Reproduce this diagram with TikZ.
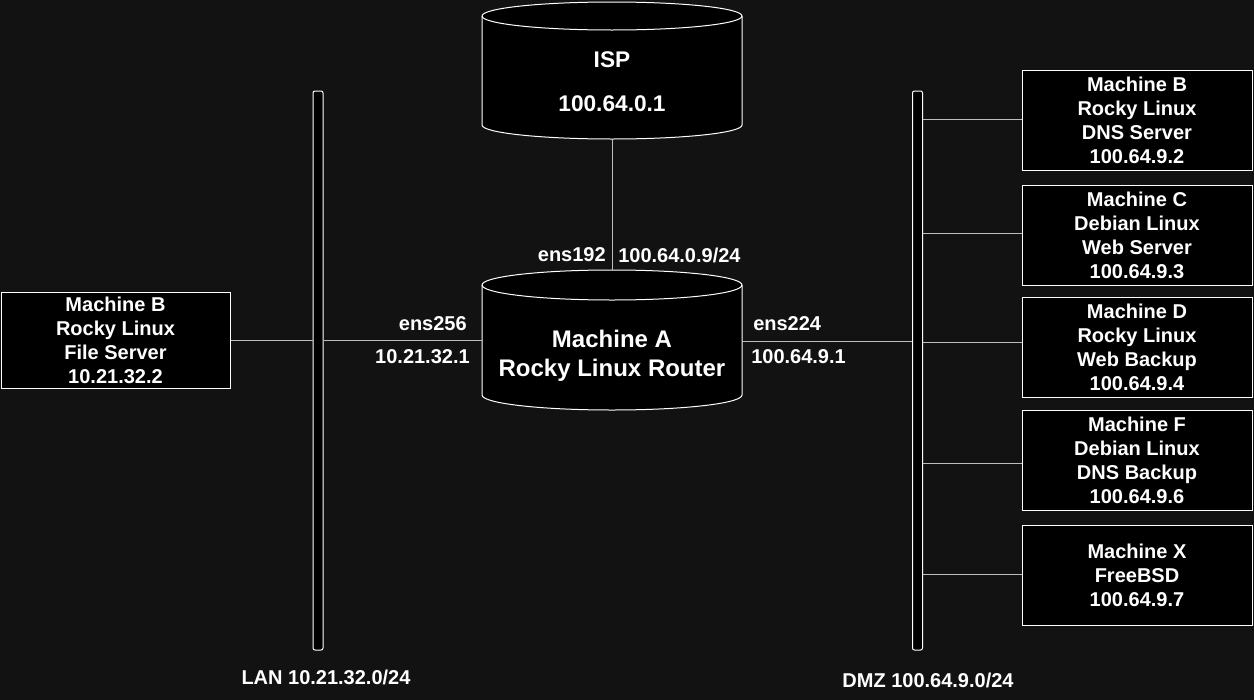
\documentclass[tikz,border=0pt]{standalone}
\usepackage{fontspec}
\setmainfont{Liberation Sans}
\definecolor{bgc}{RGB}{18,18,18}
\definecolor{wirec}{RGB}{190,190,190}
\begin{document}
\begin{tikzpicture}[x=0.75pt,y=-0.75pt,
  txt/.style={text=white,font=\bfseries\fontsize{15pt}{18pt}\selectfont,inner sep=0pt,align=center},
  isptxt/.style={text=white,font=\bfseries\fontsize{17pt}{20.4pt}\selectfont,inner sep=0pt,align=center},
  bigtxt/.style={text=white,font=\bfseries\fontsize{18pt}{21.75pt}\selectfont,inner sep=0pt,align=center},
  hostbox/.style={draw=white,fill=black,line width=0.75pt,minimum width=172.5pt,minimum height=75pt,inner sep=0pt,text=white,font=\bfseries\fontsize{15pt}{18pt}\selectfont,align=center},
  bus/.style={draw=white,fill=black,line width=0.75pt,rounded corners=1.5pt,minimum width=7.5pt,minimum height=419.25pt,inner sep=0pt},
  wire/.style={draw=wirec,line width=0.75pt},
  cyl/.style={draw=white,fill=black,line width=0.75pt}]
\useasboundingbox (0,0) rectangle (1254,700);
\fill[bgc] (0,0) rectangle (1254,700);

% ISP cylinder
\path[cyl] (482,16) -- (482,125) arc[start angle=180,end angle=0,x radius=130,y radius=14]
  -- (742,16) arc[start angle=0,end angle=-180,x radius=130,y radius=14] -- cycle;
\draw[white,line width=0.75pt] (482,16) arc[start angle=180,end angle=0,x radius=130,y radius=14];
\node[isptxt] (isp) at (612,82) {ISP\\[12.6pt]100.64.0.1};
\coordinate (ispbot) at (612,139);

% Machine A cylinder
\path[cyl] (482,285) -- (482,395) arc[start angle=180,end angle=0,x radius=130,y radius=15]
  -- (742,285) arc[start angle=0,end angle=-180,x radius=130,y radius=15] -- cycle;
\draw[white,line width=0.75pt] (482,285) arc[start angle=180,end angle=0,x radius=130,y radius=15];
\node[bigtxt] (ma) at (612,355.5) {Machine A\\Rocky Linux Router};
\coordinate (atop) at (612,270);
\coordinate (awest) at (482,340);
\coordinate (aeast) at (742,341);

% buses
\node[bus] (lan) at (318,370.5) {};
\node[bus] (dmz) at (917.5,370.5) {};

% hosts
\node[hostbox,minimum width=171.75pt,minimum height=72pt] (fs) at (115.5,340) {Machine B\\Rocky Linux\\File Server\\10.21.32.2};
\node[hostbox] (mb) at (1137,120) {Machine B\\Rocky Linux\\DNS Server\\100.64.9.2};
\node[hostbox] (mc) at (1137,235) {Machine C\\Debian Linux\\Web Server\\100.64.9.3};
\node[hostbox] (md) at (1137,347) {Machine D\\Rocky Linux\\Web Backup\\100.64.9.4};
\node[hostbox] (mf) at (1137,460) {Machine F\\Debian Linux\\DNS Backup\\100.64.9.6};
\node[hostbox] (mx) at (1137,575) {Machine X\\FreeBSD\\100.64.9.7};

% wires
\draw[wire] (ispbot) -- (atop);
\draw[wire] (fs.east) -- (lan.west |- fs.east);
\draw[wire] (lan.east |- awest) -- (awest);
\draw[wire] (aeast) -- (dmz.west |- aeast);
\draw[wire] (dmz.east |- 0,119) -- (mb.west |- 0,119);
\draw[wire] (dmz.east |- 0,233) -- (mc.west |- 0,233);
\draw[wire] (dmz.east |- 0,342) -- (md.west |- 0,342);
\draw[wire] (dmz.east |- 0,463) -- (mf.west |- 0,463);
\draw[wire] (dmz.east |- 0,574) -- (mx.west |- 0,574);

% labels
\node[txt,anchor=east] (l192) at (606,255) {ens192};
\node[txt,anchor=west] (l0924) at (618,255) {100.64.0.9/24};
\node[txt,anchor=east] (l256) at (467,324) {ens256};
\node[txt,anchor=east] (l3221) at (470,357) {10.21.32.1};
\node[txt,anchor=west] (l224) at (753,324) {ens224};
\node[txt,anchor=west] (l991) at (751,357) {100.64.9.1};
\node[txt] (lanl) at (326,677) {LAN 10.21.32.0/24};
\node[txt] (dmzl) at (928,680) {DMZ 100.64.9.0/24};
\end{tikzpicture}
\end{document}
